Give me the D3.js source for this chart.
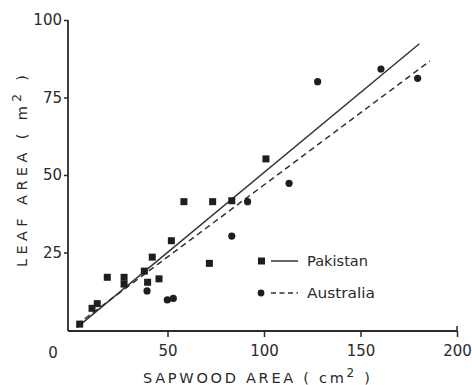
<!DOCTYPE html>
<html>
<head>
<meta charset="utf-8">
<script src="https://cdn.jsdelivr.net/npm/d3@7"></script>
<style>
  body { margin: 0; background: #fff; }
  svg { display: block; }
  text { font-family: "DejaVu Sans", sans-serif; fill: #2a2a2a; }
</style>
</head>
<body>
<svg id="chart" width="472" height="385"></svg>
<script>
// ---- data (sapwood area cm², leaf area m²) ----
const pakistanX = [4.5, 10.9, 13.6, 18.8, 27.5, 27.5, 38, 42.1, 39.7, 45.6, 52, 58.5, 71.7, 73.4, 83.3, 101];
const pakistanY = [1.9, 7, 8.5, 17, 17, 14.8, 19, 23.5, 15.4, 16.5, 28.8, 41.4, 21.5, 41.4, 41.7, 55.2];
const australiaX = [39.4, 49.9, 53, 83.3, 91.5, 113, 127.8, 160.6, 179.6];
const australiaY = [12.6, 9.7, 10.2, 30.3, 41.4, 47.3, 80.1, 84.2, 81.2];
// regression fits: [intercept, slope], x extent
const pakistanFit = [-0.8, 0.516];
const pakistanFitX = [3, 180.5];
const australiaFit = [0.3, 0.465];
const australiaFitX = [3, 186];
const xTicks = [50, 100, 150, 200];
const yTicks = [25, 50, 75, 100];
const seriesNames = ["Pakistan", "Australia"];

const svg = d3.select("#chart");
const x = d3.scaleLinear().domain([0, 200]).range([71, 457]);
const y = d3.scaleLinear().domain([0, 100]).range([330, 20]);
const axisX0 = 68, axisY0 = 331;
const ink = "#2a2a2a";

// axes lines
svg.append("line").attr("x1", axisX0).attr("x2", axisX0).attr("y1", y(100)).attr("y2", axisY0)
  .attr("stroke", ink).attr("stroke-width", 1.8);
svg.append("line").attr("x1", axisX0).attr("x2", x(200)).attr("y1", axisY0).attr("y2", axisY0)
  .attr("stroke", ink).attr("stroke-width", 1.8);
// small upward hook at the end of the x axis
svg.append("line").attr("x1", x(200)).attr("x2", x(200)).attr("y1", axisY0 - 5).attr("y2", axisY0)
  .attr("stroke", ink).attr("stroke-width", 1.5);

// x axis
const gx = svg.append("g").attr("transform", `translate(0,${axisY0})`)
  .call(d3.axisBottom(x).tickValues(xTicks).tickSize(6).tickPadding(8));
gx.select(".domain").remove();
gx.selectAll(".tick line").attr("stroke", ink).attr("stroke-width", 1.5);
gx.selectAll(".tick text").attr("font-size", 15).attr("fill", ink)
  .style("font-family", "DejaVu Sans, sans-serif");

// y axis
const gy = svg.append("g").attr("transform", `translate(${axisX0},0)`)
  .call(d3.axisLeft(y).tickValues(yTicks).tickSize(4).tickPadding(2));
gy.select(".domain").remove();
gy.selectAll(".tick line").attr("stroke", ink).attr("stroke-width", 1.5);
gy.selectAll(".tick text").attr("font-size", 15).attr("fill", ink)
  .style("font-family", "DejaVu Sans, sans-serif");

// origin label
svg.append("text").attr("x", 53).attr("y", 358).attr("text-anchor", "middle")
  .attr("font-size", 15).text("0");

// axis titles
const xt = svg.append("text").attr("x", 143).attr("y", 383)
  .attr("font-size", 14.5).attr("textLength", 227).attr("lengthAdjust", "spacing");
xt.append("tspan").text("SAPWOOD  AREA  ( cm");
xt.append("tspan").attr("dy", -6).attr("font-size", 12).text("2");
xt.append("tspan").attr("dy", 6).text("  )");

const yt = svg.append("text").attr("transform", "translate(27,267) rotate(-90)")
  .attr("font-size", 14.5).attr("textLength", 192).attr("lengthAdjust", "spacing");
yt.append("tspan").text("LEAF  AREA  (  m");
yt.append("tspan").attr("dy", -6).attr("font-size", 12).text("2");
yt.append("tspan").attr("dy", 6).text("  )");

// regression lines
function fitLine(fit, ext, dash) {
  const pts = ext.map(v => [x(v), y(fit[0] + fit[1] * v)]);
  svg.append("path").attr("d", d3.line()(pts)).attr("fill", "none")
    .attr("stroke", "#333").attr("stroke-width", 1.5)
    .attr("stroke-dasharray", dash || null);
}
fitLine(pakistanFit, pakistanFitX, null);
fitLine(australiaFit, australiaFitX, "6,4");

// points
const pak = pakistanX.map((v, i) => [v, pakistanY[i]]);
const aus = australiaX.map((v, i) => [v, australiaY[i]]);
const sq = 7;
svg.append("g").selectAll("rect").data(pak).join("rect")
  .attr("x", d => x(d[0]) - sq / 2).attr("y", d => y(d[1]) - sq / 2)
  .attr("width", sq).attr("height", sq).attr("fill", "#1e1e1e");
svg.append("g").selectAll("circle").data(aus).join("circle")
  .attr("cx", d => x(d[0])).attr("cy", d => y(d[1])).attr("r", 3.6).attr("fill", "#1e1e1e");

// legend
const lg = svg.append("g");
lg.append("rect").attr("x", 258).attr("y", 257.5).attr("width", sq).attr("height", sq).attr("fill", "#1e1e1e");
lg.append("line").attr("x1", 271).attr("x2", 298).attr("y1", 261).attr("y2", 261)
  .attr("stroke", "#333").attr("stroke-width", 1.5);
lg.append("text").attr("x", 307).attr("y", 266).attr("font-size", 13.5)
  .attr("textLength", 61).attr("lengthAdjust", "spacingAndGlyphs").text(seriesNames[0]);
lg.append("circle").attr("cx", 261).attr("cy", 293).attr("r", 3.4).attr("fill", "#1e1e1e");
lg.append("line").attr("x1", 271).attr("x2", 298).attr("y1", 293).attr("y2", 293)
  .attr("stroke", "#333").attr("stroke-width", 1.5).attr("stroke-dasharray", "5,3.5");
lg.append("text").attr("x", 307).attr("y", 298).attr("font-size", 13.5)
  .attr("textLength", 68).attr("lengthAdjust", "spacingAndGlyphs").text(seriesNames[1]);
</script>
</body>
</html>
